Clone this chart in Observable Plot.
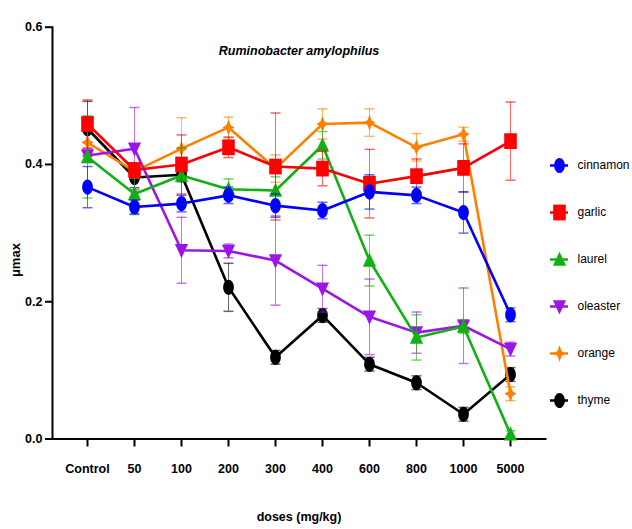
<!DOCTYPE html>
<html><head><meta charset="utf-8">
<script src="https://cdn.jsdelivr.net/npm/d3@7"></script>
<script src="https://cdn.jsdelivr.net/npm/@observablehq/plot@0.6"></script>
<style>
body{margin:0;background:#fff}
#wrap{position:relative;width:632px;height:529px}
#wrap svg{position:absolute;left:0;top:0}
</style>
</head><body><div id="wrap"></div>
<script>
const doses = ["Control","50","100","200","300","400","600","800","1000","5000"];
const series = ["cinnamon","garlic","laurel","oleaster","orange","thyme"];
const colors = ["#0000ff","#ff0000","#12b012","#9b16e6","#ff8000","#000000"];
const yTicks = [0, 0.2, 0.4, 0.6];
const title = "Ruminobacter amylophilus";
const xLabel = "doses (mg/kg)";
const yLabel = "μmax";

const cinnamon   = [0.367,0.338,0.343,0.355,0.340,0.333,0.360,0.355,0.330,0.181];
const cinnamonSD = [0.030,0.010,0.012,0.012,0.017,0.012,0.025,0.012,0.030,0.010];
const garlic     = [0.459,0.392,0.400,0.425,0.397,0.394,0.372,0.383,0.395,0.434];
const garlicSD   = [0.035,0.010,0.043,0.015,0.078,0.025,0.050,0.025,0.035,0.057];
const laurel     = [0.411,0.357,0.384,0.364,0.362,0.428,0.260,0.148,0.164,0.007];
const laurelSD   = [0.060,0.030,0.040,0.015,0.020,0.020,0.037,0.033,0.010,0.005];
const oleaster   = [0.413,0.423,0.275,0.274,0.260,0.219,0.178,0.155,0.165,0.131];
const oleasterSD = [0.010,0.060,0.048,0.010,0.065,0.034,0.055,0.030,0.055,0.010];
const orange     = [0.432,0.390,0.423,0.454,0.394,0.459,0.461,0.425,0.444,0.066];
const orangeSD   = [0.020,0.010,0.045,0.015,0.020,0.022,0.020,0.020,0.010,0.010];
const thyme      = [0.452,0.381,0.385,0.221,0.119,0.180,0.109,0.082,0.036,0.094];
const thymeSD    = [0.040,0.015,0.010,0.035,0.010,0.010,0.010,0.010,0.010,0.010];

const values = {cinnamon, garlic, laurel, oleaster, orange, thyme};
const sds = {cinnamon: cinnamonSD, garlic: garlicSD, laurel: laurelSD, oleaster: oleasterSD, orange: orangeSD, thyme: thymeSD};

const rows = [];
series.forEach(s => doses.forEach((d, i) => rows.push({series: s, dose: d, value: values[s][i], sd: sds[s][i]})));

// custom symbols
const K = 0.5523;
const ellipse = {draw(ctx, size){ const r = Math.sqrt(size/Math.PI); const rx = r*0.85, ry = r*1.2;
  ctx.moveTo(rx,0);
  ctx.bezierCurveTo(rx, ry*K, rx*K, ry, 0, ry);
  ctx.bezierCurveTo(-rx*K, ry, -rx, ry*K, -rx, 0);
  ctx.bezierCurveTo(-rx, -ry*K, -rx*K, -ry, 0, -ry);
  ctx.bezierCurveTo(rx*K, -ry, rx, -ry*K, rx, 0);
  ctx.closePath(); }};
const square = {draw(ctx, size){ const r = Math.sqrt(size/Math.PI); const w = r*1.0, h = r*1.25;
  ctx.moveTo(-w,-h); ctx.lineTo(w,-h); ctx.lineTo(w,h); ctx.lineTo(-w,h); ctx.closePath(); }};
const triUp = {draw(ctx, size){ const r = Math.sqrt(size/Math.PI); const w = r*1.05, h = r*1.25;
  ctx.moveTo(0,-h); ctx.lineTo(w,h*0.8); ctx.lineTo(-w,h*0.8); ctx.closePath(); }};
const triDown = {draw(ctx, size){ const r = Math.sqrt(size/Math.PI); const w = r*1.05, h = r*1.25;
  ctx.moveTo(0,h); ctx.lineTo(w,-h*0.8); ctx.lineTo(-w,-h*0.8); ctx.closePath(); }};
const diamond = {draw(ctx, size){ const r = Math.sqrt(size/Math.PI); const w = r*0.95, h = r*1.3;
  ctx.moveTo(0,-h); ctx.lineTo(w*0.35,-h*0.3); ctx.lineTo(w,0); ctx.lineTo(w*0.35,h*0.3); ctx.lineTo(0,h);
  ctx.lineTo(-w*0.35,h*0.3); ctx.lineTo(-w,0); ctx.lineTo(-w*0.35,-h*0.3); ctx.closePath(); }};
const hline = {draw(ctx, size){ const r = Math.sqrt(size/Math.PI); ctx.moveTo(-r,0); ctx.lineTo(r,0); }};
const symbols = [ellipse, square, triUp, triDown, diamond, ellipse];

const marks = [];
[...series].reverse().forEach(s => {
  const i = series.indexOf(s);
  const data = rows.filter(r => r.series === s);
  const c = colors[i];
  marks.push(
    Plot.ruleX(data, {x: "dose", y1: d => d.value - d.sd, y2: d => d.value + d.sd, stroke: c, strokeWidth: 1, strokeOpacity: 0.6}),
    Plot.dot(data, {x: "dose", y: d => d.value + d.sd, symbol: hline, r: 5, stroke: c, strokeWidth: 1.5, strokeOpacity: 0.6, fill: "none"}),
    Plot.dot(data, {x: "dose", y: d => d.value - d.sd, symbol: hline, r: 5, stroke: c, strokeWidth: 1.5, strokeOpacity: 0.6, fill: "none"}),
    Plot.line(data, {x: "dose", y: "value", stroke: c, strokeWidth: 2.6}),
    Plot.dot(data, {x: "dose", y: "value", symbol: symbols[i], r: 6.3, fill: c, stroke: "none"})
  );
});

const main = Plot.plot({
  width: 632, height: 529,
  marginLeft: 52, marginRight: 87, marginTop: 26.7, marginBottom: 90.5,
  style: {fontFamily: "'Liberation Sans', Arial, sans-serif", fontSize: "12px", background: "#fff", color: "#000"},
  x: {type: "point", domain: doses, padding: 0.67, label: null},
  y: {domain: [0, 0.6], label: null},
  marks: [
    Plot.axisY({ticks: yTicks, tickFormat: d3.format(".1f"), tickSize: 7, tickPadding: 3, strokeWidth: 2, fontWeight: "bold", fontSize: 12.5, label: null}),
    Plot.axisX({tickSize: 8, tickPadding: 17, strokeWidth: 2, fontWeight: "bold", fontSize: 12.5, label: null}),
    Plot.frame({anchor: "left", strokeWidth: 2}),
    Plot.frame({anchor: "bottom", strokeWidth: 2}),
    Plot.text([title], {frameAnchor: "top", dy: 19, fontStyle: "italic", fontWeight: "bold", fontSize: 12.5}),
    Plot.text([xLabel], {frameAnchor: "bottom", dy: 82, fontWeight: "bold", fontSize: 12.5}),
    Plot.text([yLabel], {frameAnchor: "left", dx: -37, dy: 44, rotate: -90, fontWeight: "bold", fontSize: 13}),
    ...marks
  ]
});

const legend = Plot.plot({
  width: 632, height: 529,
  marginLeft: 550, marginRight: 64, marginTop: 164, marginBottom: 129,
  style: {fontFamily: "'Liberation Sans', Arial, sans-serif", fontSize: "12px", background: "transparent"},
  x: {axis: null},
  y: {type: "point", domain: series, padding: 0, axis: null},
  marks: [
    Plot.tickY(series, {y: d => d, stroke: d => colors[series.indexOf(d)], strokeWidth: 2.5}),
    ...series.map((s, i) => Plot.dot([s], {y: d => d, symbol: symbols[i], r: 6.3, fill: colors[i], stroke: "none"})),
    Plot.text(series, {y: d => d, text: d => d, frameAnchor: "left", dx: 27, textAnchor: "start", fontSize: 12})
  ]
});

const wrap = document.getElementById("wrap");
wrap.appendChild(main);
wrap.appendChild(legend);
</script>
</body></html>
